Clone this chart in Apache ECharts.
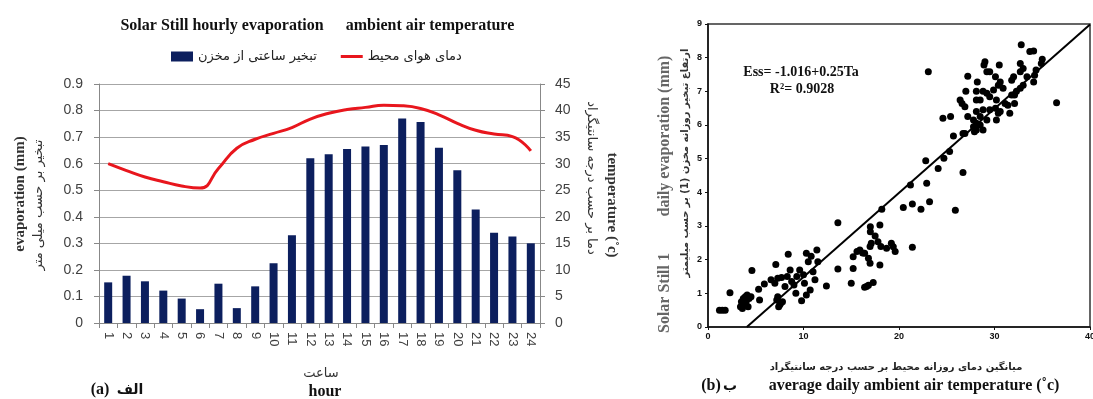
<!DOCTYPE html>
<html>
<head>
<meta charset="utf-8">
<script src="https://cdn.jsdelivr.net/npm/echarts@6/dist/echarts.min.js"></script>
<style>
  html, body { margin: 0; padding: 0; background: #fff; }
  #chart { width: 1093px; height: 399px; }
</style>
</head>
<body>
<div id="chart"></div>
<script>
// ---- panel (a): hourly values ----
const hours = ['1','2','3','4','5','6','7','8','9','10','11','12','13','14','15','16','17','18','19','20','21','22','23','24'];
const hourlyEvap = [0.153, 0.178, 0.157, 0.122, 0.092, 0.052, 0.148, 0.056, 0.138, 0.225, 0.33, 0.62,
                    0.635, 0.655, 0.665, 0.67, 0.77, 0.757, 0.66, 0.575, 0.427, 0.34, 0.326, 0.30];
const airTemp = [30.0, 28.7, 27.5, 26.6, 25.8, 25.4, 29.1, 32.9, 34.6, 35.7, 36.8, 38.4,
                 39.5, 40.2, 40.6, 41.0, 40.9, 40.4, 39.2, 37.6, 36.3, 35.6, 35.1, 32.4];

// ---- panel (b): daily values ----
const dailyTemp = [
  1.2, 1.5, 1.8, 2.3, 3.4, 3.5, 3.6, 3.7, 3.8, 3.9, 4.0, 4.1, 4.3, 4.5, 4.2,
  4.6, 5.4, 5.3, 5.9, 6.6, 7.1, 7.0, 7.3, 7.2, 7.5, 7.8, 7.3, 7.6, 7.4,
  7.7, 8.4, 8.6, 8.76, 8.06, 9.3, 9.8, 9.6, 10.3, 10.5, 11.4, 11.0, 10.7, 10.3, 11.5, 11.2, 12.4,
  9.0, 9.2, 8.3, 10.0, 10.8, 10.1,
  13.6, 13.6, 15.0, 15.2, 15.2, 15.6, 15.9, 16.4, 16.97, 17.1, 16.8, 16.97, 17.8, 18.1, 18.7, 19.2, 19.6, 18.0,
  16.4, 16.8, 17.3, 16.6, 17.0, 17.0, 18.0, 18.2, 20.45, 21.4, 22.3, 23.2, 25.9, 21.4, 19.4, 16.2, 17.5,
  21.2, 22.9, 24.1, 22.8, 24.7, 25.3, 26.7, 25.7, 26.7, 27.9, 23.07, 36.5,
  32.8, 33.7, 34.1, 35.0, 34.9, 29.0, 28.9, 30.5, 29.2, 29.5, 32.7, 32.7, 33.0, 34.35, 34.2, 33.4, 32.0,
  31.8, 30.6, 30.4, 30.1, 27.2, 28.2, 27.0, 28.1, 28.8, 29.2, 29.9, 30.9, 26.4, 26.6, 26.9, 28.1, 28.5,
  29.5, 30.2, 31.1, 31.4, 32.1, 32.1, 31.8, 32.7, 33.0, 32.3, 34.1, 31.6, 30.6, 30.1, 29.5, 28.8, 28.5,
  28.1, 27.8, 28.1, 28.5, 29.2, 28.8, 28.1, 27.8, 30.2, 30.4, 27.2, 24.6, 25.4, 26.9
];
const dailyEvap = [
  0.5, 0.5, 0.5, 1.02, 0.6, 0.75, 0.55, 0.85, 0.65, 0.9, 0.75, 0.95, 0.85, 0.9, 0.6,
  1.68, 0.8, 1.12, 1.28, 1.4, 1.86, 1.3, 1.45, 0.8, 0.65, 0.75, 0.9, 0.7, 0.6,
  1.47, 2.16, 1.69, 1.35, 1.2, 1.5, 0.78, 1.69, 2.19, 1.94, 2.29, 1.64, 1.1, 0.95, 1.94, 1.4, 1.22,
  1.25, 1.0, 1.5, 1.55, 2.1, 1.3,
  3.1, 1.72, 1.3, 1.74, 2.09, 2.24, 2.29, 2.19, 2.39, 2.49, 2.04, 1.89, 2.53, 2.39, 2.34, 2.49, 2.24, 1.84,
  1.18, 1.24, 1.32, 1.2, 2.98, 2.83, 3.03, 3.5, 3.55, 3.65, 3.5, 3.72, 3.47, 2.37, 2.38, 2.2, 2.7,
  4.22, 4.27, 4.71, 4.94, 5.01, 5.21, 4.59, 5.67, 5.75, 5.8, 7.58, 6.66,
  8.38, 8.18, 8.2, 7.95, 7.83, 7.88, 7.78, 7.78, 7.58, 7.58, 7.83, 7.58, 7.68, 7.63, 7.48, 7.43, 7.43,
  7.33, 7.28, 7.18, 7.43, 7.45, 7.28, 7.0, 7.0, 7.0, 6.94, 7.04, 7.09, 6.74, 6.64, 6.54, 6.74, 6.74,
  6.84, 6.74, 6.64, 6.59, 6.64, 6.89, 6.89, 7.09, 7.18, 7.0, 7.28, 6.35, 6.40, 6.5, 6.45, 6.45, 6.25,
  6.40, 6.15, 6.05, 6.0, 6.15, 5.85, 5.85, 5.95, 6.15, 6.35, 6.25, 6.2, 6.25, 5.75
];
// fitted line Ess = -1.016 + 0.25 Ta, end points as drawn
const fitTemp = [4.064, 40];
const fitEvap = [0, 8.984];

const serif = '"Liberation Serif", "DejaVu Serif", serif';
const sans = '"Liberation Sans", Arial, sans-serif';
const persian = '"DejaVu Sans", "Noto Sans", sans-serif';

const scatterData = dailyTemp.map((t, i) => [t, dailyEvap[i]]);
const fitData = fitTemp.map((t, i) => [t, fitEvap[i]]);

// thin horizontal bar as legend icon for the temperature line (tiny dots keep the box 22x10)
const lineIcon = 'path://M0,3.5L22,3.5L22,6.5L0,6.5Z M0,0L0.01,0L0.01,0.01Z M0,10L0.01,10L0.01,10.01Z';

const chart = echarts.init(document.getElementById('chart'), null, { renderer: 'canvas' });

const option = {
  animation: false,
  backgroundColor: '#fff',
  legend: {
    data: [
      { name: 'تبخیر ساعتی از مخزن', icon: 'rect' },
      { name: 'دمای هوای محیط', icon: lineIcon }
    ],
    left: 166,
    top: 45,
    itemWidth: 22,
    itemHeight: 10,
    itemGap: 24,
    textStyle: { fontFamily: persian, fontSize: 13, color: '#222' }
  },
  grid: [
    { left: 99, top: 84, width: 441, height: 239, outerBoundsMode: 'none' },
    { left: 708, top: 24, width: 382, height: 303, outerBoundsMode: 'none',
      show: true, borderColor: '#333', borderWidth: 1.5, backgroundColor: 'transparent' }
  ],
  xAxis: [
    {
      gridIndex: 0,
      type: 'category',
      data: hours,
      boundaryGap: true,
      axisLine: { lineStyle: { color: '#888' } },
      axisTick: { show: true, length: 5, lineStyle: { color: '#888' } },
      axisLabel: { rotate: -90, margin: 9, color: '#404040', fontFamily: sans, fontSize: 13, interval: 0 }
    },
    {
      gridIndex: 1,
      type: 'value',
      min: 0, max: 40, interval: 10,
      splitLine: { show: false },
      axisLine: { lineStyle: { color: '#111', width: 1.5 } },
      axisTick: { show: true, length: 3, lineStyle: { color: '#111' } },
      axisLabel: { margin: 5, color: '#111', fontFamily: sans, fontSize: 9, fontWeight: 'bold' }
    }
  ],
  yAxis: [
    {
      gridIndex: 0,
      type: 'value',
      min: 0, max: 0.9, interval: 0.1,
      axisLine: { show: true, lineStyle: { color: '#888' } },
      axisTick: { show: true, length: 5, lineStyle: { color: '#888' } },
      splitLine: { lineStyle: { color: '#a6a6a6' } },
      axisLabel: { margin: 16, color: '#404040', fontFamily: sans, fontSize: 14,
                   formatter: v => (v === 0 ? '0' : v.toFixed(1)) }
    },
    {
      gridIndex: 0,
      type: 'value',
      position: 'right',
      min: 0, max: 45, interval: 5,
      axisLine: { show: true, lineStyle: { color: '#888' } },
      axisTick: { show: true, length: 5, lineStyle: { color: '#888' } },
      splitLine: { show: false },
      axisLabel: { margin: 15, color: '#404040', fontFamily: sans, fontSize: 14 }
    },
    {
      gridIndex: 1,
      type: 'value',
      min: 0, max: 9, interval: 1,
      splitLine: { show: false },
      axisLine: { show: true, lineStyle: { color: '#111', width: 1.5 } },
      axisTick: { show: true, length: 3, lineStyle: { color: '#111' } },
      axisLabel: { margin: 6, color: '#111', fontFamily: sans, fontSize: 9, fontWeight: 'bold' }
    }
  ],
  series: [
    {
      name: 'تبخیر ساعتی از مخزن',
      type: 'bar',
      xAxisIndex: 0, yAxisIndex: 0,
      data: hourlyEvap,
      barWidth: 8,
      itemStyle: { color: '#0c1f5e' }
    },
    {
      name: 'دمای هوای محیط',
      type: 'line',
      xAxisIndex: 0, yAxisIndex: 1,
      data: airTemp,
      smooth: true,
      symbol: 'none',
      lineStyle: { color: '#e8161d', width: 3 },
      itemStyle: { color: '#e8161d' }
    },
    {
      type: 'scatter',
      xAxisIndex: 1, yAxisIndex: 2,
      data: scatterData,
      symbolSize: 7,
      itemStyle: { color: '#000', opacity: 1 }
    },
    {
      type: 'line',
      xAxisIndex: 1, yAxisIndex: 2,
      data: fitData,
      symbol: 'none',
      lineStyle: { color: '#000', width: 2 }
    }
  ],
  graphic: [
    // panel (a) title
    { type: 'text', x: 222, y: 26, style: { text: 'Solar Still hourly evaporation', font: 'bold 16px ' + serif, fill: '#111', align: 'center', verticalAlign: 'middle' } },
    { type: 'text', x: 430, y: 26, style: { text: 'ambient air temperature', font: 'bold 16px ' + serif, fill: '#111', align: 'center', verticalAlign: 'middle' } },
    // panel (a) left axis names
    { type: 'text', x: 20, y: 194, rotation: Math.PI / 2, style: { text: 'evaporation (mm)', font: 'bold 15px ' + serif, fill: '#333', align: 'center', verticalAlign: 'middle' } },
    { type: 'text', x: 39, y: 205, rotation: Math.PI / 2, style: { text: 'تبخیر بر حسب میلی متر', font: '13px ' + persian, fill: '#333', align: 'center', verticalAlign: 'middle' } },
    // panel (a) right axis names
    { type: 'text', x: 591, y: 178, rotation: -Math.PI / 2, style: { text: 'دما بر حسب درجه سانتیگراد', font: '13px ' + persian, fill: '#333', align: 'center', verticalAlign: 'middle' } },
    { type: 'text', x: 612, y: 205, rotation: -Math.PI / 2, style: { text: 'temperature (˚c)', font: 'bold 15px ' + serif, fill: '#333', align: 'center', verticalAlign: 'middle' } },
    // panel (a) x axis names
    { type: 'text', x: 321, y: 374, style: { text: 'ساعت', font: '13px ' + persian, fill: '#333', align: 'center', verticalAlign: 'middle' } },
    { type: 'text', x: 325, y: 392, style: { text: 'hour', font: 'bold 16px ' + serif, fill: '#111', align: 'center', verticalAlign: 'middle' } },
    { type: 'text', x: 100, y: 390, style: { text: '(a)', font: 'bold 16px ' + serif, fill: '#111', align: 'center', verticalAlign: 'middle' } },
    { type: 'text', x: 130, y: 390, style: { text: 'الف', font: 'bold 14px ' + persian, fill: '#111', align: 'center', verticalAlign: 'middle' } },
    // panel (b) equation
    { type: 'text', x: 801, y: 72, style: { text: 'Ess= -1.016+0.25Ta', font: 'bold 14px ' + serif, fill: '#111', align: 'center', verticalAlign: 'middle' } },
    { type: 'text', x: 802, y: 89, style: { text: 'R²= 0.9028', font: 'bold 14px ' + serif, fill: '#111', align: 'center', verticalAlign: 'middle' } },
    // panel (b) y axis names
    { type: 'text', x: 665, y: 293, rotation: Math.PI / 2, style: { text: 'Solar Still 1', font: 'bold 16px ' + serif, fill: '#666', align: 'center', verticalAlign: 'middle' } },
    { type: 'text', x: 665, y: 136, rotation: Math.PI / 2, style: { text: 'daily evaporation (mm)', font: 'bold 16px ' + serif, fill: '#666', align: 'center', verticalAlign: 'middle' } },
    { type: 'text', x: 685, y: 163, rotation: Math.PI / 2, style: { text: 'ارتفاع تبخیر روزانه مخزن (1) بر حسب میلیمتر', font: 'bold 10px ' + persian, fill: '#333', align: 'center', verticalAlign: 'middle' } },
    // panel (b) x axis names
    { type: 'text', x: 896, y: 367, style: { text: 'میانگین دمای روزانه محیط بر حسب درجه سانتیگراد', font: 'bold 10px ' + persian, fill: '#222', align: 'center', verticalAlign: 'middle' } },
    { type: 'text', x: 711, y: 386, style: { text: '(b)', font: 'bold 16px ' + serif, fill: '#111', align: 'center', verticalAlign: 'middle' } },
    { type: 'text', x: 730, y: 386, style: { text: 'ب', font: 'bold 14px ' + persian, fill: '#111', align: 'center', verticalAlign: 'middle' } },
    { type: 'text', x: 914, y: 386, style: { text: 'average daily ambient air temperature (˚c)', font: 'bold 16px ' + serif, fill: '#111', align: 'center', verticalAlign: 'middle' } }
  ]
};

chart.setOption(option);
</script>
</body>
</html>
